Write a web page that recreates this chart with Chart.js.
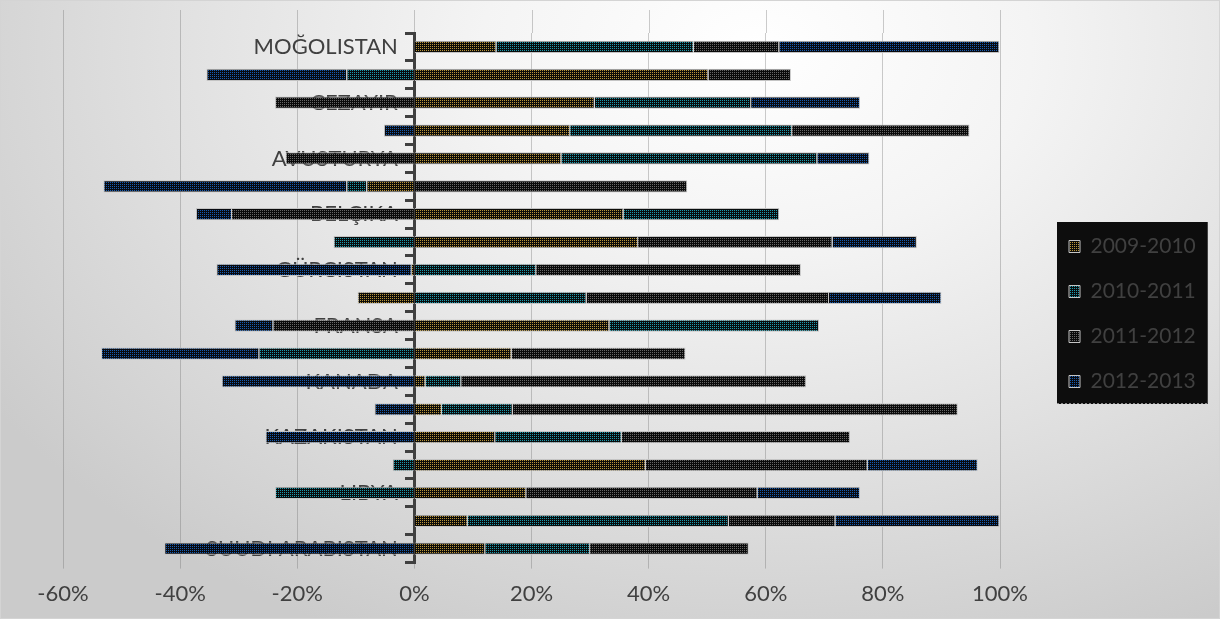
<!DOCTYPE html>
<html>
<head>
<meta charset="utf-8">
<script src="https://cdn.jsdelivr.net/npm/chart.js@4/dist/chart.umd.min.js"></script>
<style>
html, body { margin: 0; padding: 0; background: #ffffff; }
#wrap { position: relative; width: 1220px; height: 619px; overflow: hidden;
  background: radial-gradient(ellipse 75% 105% at 62% 8%, #ffffff 0%, #f4f4f4 30%, #e0e0e0 65%, #cbcbcb 100%); }
#wrap::after { content: ''; position: absolute; left: 0; top: 0; right: 0; bottom: 0; border: 1px solid #d4d4d4; pointer-events: none; }
canvas { display: block; }
</style>
</head>
<body>
<div id="wrap"><canvas id="chart" width="1220" height="619"></canvas></div>
<script>
// ---- data (percent) ----
const categories = ['MOĞOLISTAN', '', 'CEZAYIR', '', 'AVUSTURYA', '', 'BELÇIKA', '', 'GÜRCISTAN', '',
  'FRANSA', '', 'KANADA', '', 'KAZAKISTAN', '', 'LIBYA', '', 'SUUDI ARABISTAN'];
const seriesNames = ['2009-2010', '2010-2011', '2011-2012', '2012-2013'];
const s2009_2010 = [14.0, 50.2, 30.8, 26.6, 25.1, -8.2, 35.7, 38.2, -0.6, -9.7, 33.3, 16.6, 1.9, 4.7, 13.8, 39.5, 19.1, 9.1, 12.1];
const s2010_2011 = [33.7, -11.6, 26.7, 37.9, 43.7, -3.4, 26.6, -13.8, 20.8, 29.4, 35.8, -26.6, 6.1, 12.1, 21.6, -3.7, -23.8, 44.6, 17.9];
const s2011_2012 = [14.6, 14.1, -23.8, 30.3, -22.0, 46.6, -31.3, 33.2, 45.2, 41.4, -24.2, 29.7, 58.9, 76.0, 39.0, 37.9, 39.5, 18.2, 27.1];
const s2012_2013 = [37.6, -23.9, 18.6, -5.2, 8.9, -41.5, -6.0, 14.4, -33.2, 19.2, -6.5, -26.9, -32.9, -6.8, -25.4, 18.8, 17.5, 28.0, -42.7];
const xTickValues = [-60, -40, -20, 0, 20, 40, 60, 80, 100];

// ---- styles ----
function makePattern(fg, bg) {
  const c = document.createElement('canvas');
  c.width = 2; c.height = 2;
  const g = c.getContext('2d');
  g.fillStyle = bg; g.fillRect(0, 0, 2, 2);
  g.fillStyle = fg;
  g.fillRect(0, 0, 1, 1);
  return g.createPattern(c, 'repeat');
}
const fills = [
  makePattern('#b8943a', '#0d0c08'),
  makePattern('#1c9aac', '#080c0d'),
  makePattern('#666666', '#0a0a0a'),
  makePattern('#165cb0', '#080a10')
];
const borderCol = '#c4c4c4';
const gridCol = 'rgba(110,110,110,0.35)';
const font = 'Lato, "Open Sans", sans-serif';
const seriesData = [s2009_2010, s2010_2011, s2011_2012, s2012_2013];

const extras = {
  id: 'extras',
  afterLayout(chart) {
    const L = chart.legend;
    const dx = 45, dy = -12;
    L.left += dx; L.right += dx; L.top += dy; L.bottom += dy;
  },
  beforeDraw(chart) {
    const ctx = chart.ctx;
    // grid lines continue above the category band, as in the plot area
    const xs = chart.scales.x;
    ctx.save();
    ctx.strokeStyle = gridCol;
    ctx.lineWidth = 1;
    xs.ticks.forEach(t => {
      const px = Math.round(xs.getPixelForValue(t.value)) + 0.5;
      ctx.beginPath();
      ctx.moveTo(px, 10); ctx.lineTo(px, chart.chartArea.top);
      ctx.stroke();
    });
    ctx.restore();
    // legend background
    const L = chart.legend;
    const hb = L.legendHitBoxes;
    if (!hb || !hb.length) return;
    const left = hb[0].left - 12;
    const right = Math.max(...hb.map(h => h.left + h.width)) + 12;
    const top = hb[0].top - 14;
    const bottom = hb[hb.length - 1].top + hb[hb.length - 1].height + 12;
    ctx.save();
    ctx.fillStyle = '#0d0d0d';
    ctx.fillRect(left, top, right - left, bottom - top);
    ctx.strokeStyle = '#8a8a8a';
    ctx.setLineDash([2, 2]);
    ctx.lineWidth = 1;
    ctx.beginPath();
    ctx.moveTo(left, bottom - 0.5); ctx.lineTo(right, bottom - 0.5);
    ctx.stroke();
    ctx.restore();
  }
};

new Chart(document.getElementById('chart'), {
  type: 'bar',
  data: {
    labels: categories,
    datasets: seriesNames.map((name, i) => ({
      label: name,
      data: seriesData[i],
      backgroundColor: fills[i],
      borderColor: borderCol,
      borderWidth: 1,
      categoryPercentage: 1,
      barPercentage: 0.44
    }))
  },
  options: {
    indexAxis: 'y',
    responsive: false,
    animation: false,
    layout: { padding: { left: 63, top: 33, bottom: 0, right: 0 } },
    plugins: {
      tooltip: { enabled: false },
      legend: {
        position: 'right',
        align: 'center',
        labels: {
          color: '#404040',
          font: { family: font, size: 21 },
          boxWidth: 11,
          boxHeight: 12,
          padding: 24
        }
      }
    },
    scales: {
      x: {
        stacked: true,
        min: -60,
        max: 100,
        afterBuildTicks: s => { s.ticks = xTickValues.map(v => ({ value: v })); },
        afterFit: s => { s.paddingRight = 220; },
        grid: { color: gridCol, lineWidth: 1, tickLength: 6, drawTicks: true },
        border: { display: false },
        ticks: {
          color: '#404040',
          font: { family: font, size: 22 },
          padding: 12,
          maxRotation: 0,
          callback: v => v + '%'
        }
      },
      y: {
        stacked: true,
        position: { x: 0 },
        z: 1,
        afterFit: s => { s.paddingTop = 0; s.paddingBottom = 0; },
        grid: { display: true, drawOnChartArea: false, drawTicks: true, tickLength: 8, color: '#404040', lineWidth: 3, offset: true },
        border: { display: true, color: '#404040', width: 3 },
        ticks: {
          autoSkip: false,
          color: '#404040',
          font: { family: font, size: 22 },
          padding: 0,
          callback: function (v) { return this.getLabelForValue(v) + '\u2003'; }
        }
      }
    }
  },
  plugins: [extras]
});
</script>
</body>
</html>
